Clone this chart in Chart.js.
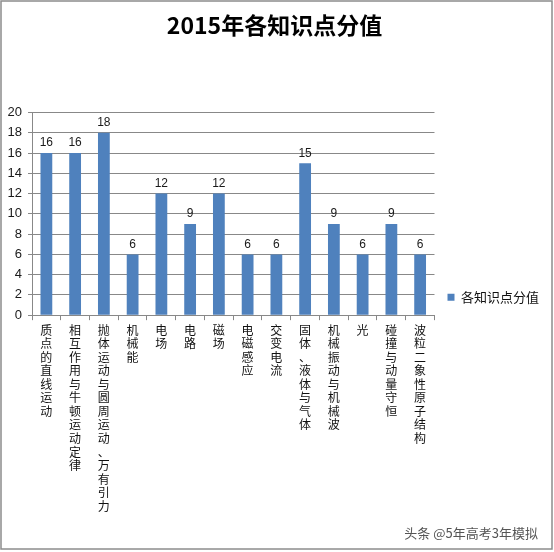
<!DOCTYPE html>
<html>
<head>
<meta charset="utf-8">
<script src="https://cdn.jsdelivr.net/npm/chart.js@4.4.1/dist/chart.umd.min.js"></script>
<style>
  html, body { margin: 0; padding: 0; background: #fff; }
  #wrap { width: 554px; height: 552px; }
</style>
</head>
<body>
<div id="wrap"><canvas id="chart" width="554" height="552"></canvas></div>
<script>
// Chart data
var title_text   = '2015年各知识点分值';
var series_name  = '各知识点分值';
var categories   = [
    '质点的直线运动',
    '相互作用与牛顿运动定律',
    '抛体运动与圆周运动、万有引力',
    '机械能',
    '电场',
    '电路',
    '磁场',
    '电磁感应',
    '交变电流',
    '固体、液体与气体',
    '机械振动与机械波',
    '光',
    '碰撞与动量守恒',
    '波粒二象性原子结构'
];
var scores       = [16, 16, 18, 6, 12, 9, 12, 6, 6, 15, 9, 6, 9, 6];
var y_ticks      = [0, 2, 4, 6, 8, 10, 12, 14, 16, 18, 20];
var watermark    = '头条 @5年高考3年模拟';

var CJK   = '"Noto Sans CJK SC", "Noto Sans", sans-serif';
var LATIN = '"Liberation Sans", Arial, sans-serif';
var GRID  = '#888888';

/******************************************************************************
* Background, frame, value labels and watermark.
******************************************************************************/
var decor_plugin = {
    id: 'decor',
    beforeDraw: function(chart) {
        var ctx = chart.ctx;
        ctx.save();
        ctx.fillStyle = '#ffffff';
        ctx.fillRect(0, 0, chart.width, chart.height);
        ctx.restore();
    },
    afterDatasetsDraw: function(chart) {
        var ctx  = chart.ctx;
        var meta = chart.getDatasetMeta(0);
        ctx.save();
        ctx.font = '12px ' + LATIN;
        ctx.fillStyle = '#1a1a1a';
        ctx.textAlign = 'center';
        ctx.textBaseline = 'bottom';
        meta.data.forEach(function(bar, i) {
            ctx.fillText(String(scores[i]), bar.x, bar.y - 4);
        });
        ctx.restore();
    },
    afterDraw: function(chart) {
        var ctx = chart.ctx;
        ctx.save();
        ctx.strokeStyle = '#8c8c8c';
        ctx.lineWidth = 1.5;
        ctx.strokeRect(1, 1, chart.width - 3, chart.height - 4);

        ctx.font = '13px ' + CJK;
        ctx.textAlign = 'right';
        ctx.textBaseline = 'middle';
        ctx.shadowColor = 'rgba(255,255,255,0.9)';
        ctx.shadowBlur = 2;
        ctx.fillStyle = '#555555';
        ctx.fillText(watermark, 538, 533);
        ctx.restore();
    }
};

var ctx = document.getElementById('chart').getContext('2d');
window.scoreChart = new Chart(ctx, {
    type: 'bar',
    data: {
        // each character on its own line gives the vertical labels
        labels: categories.map(function(c) { return c.split(''); }),
        datasets: [{
            label: series_name,
            data: scores,
            backgroundColor: '#4F81BD',
            borderWidth: 0,
            barPercentage: 0.41,
            categoryPercentage: 1.0
        }]
    },
    options: {
        responsive: false,
        animation: false,
        devicePixelRatio: 1,
        layout: {
            padding: { left: 0, right: 5, top: 0, bottom: 36 }
        },
        plugins: {
            title: {
                display: true,
                text: title_text,
                color: '#000000',
                font: { family: CJK, size: 23, weight: 'bold' },
                padding: { top: 11, bottom: 74 }
            },
            legend: {
                display: true,
                position: 'right',
                title: {
                    display: true,
                    text: ' ',
                    padding: { top: 32, bottom: 32 },
                    font: { size: 12 }
                },
                labels: {
                    boxWidth: 7,
                    boxHeight: 7,
                    color: '#111111',
                    font: { family: CJK, size: 13 },
                    padding: 13
                }
            },
            tooltip: { enabled: false }
        },
        scales: {
            x: {
                offset: true,
                grid: {
                    display: true,
                    offset: true,
                    drawOnChartArea: false,
                    drawTicks: true,
                    tickLength: 5,
                    color: GRID
                },
                border: { display: true, color: GRID, width: 1 },
                ticks: {
                    autoSkip: false,
                    maxRotation: 0,
                    minRotation: 0,
                    padding: 3,
                    color: '#111111',
                    font: { family: CJK, size: 12, lineHeight: 1.13 }
                }
            },
            y: {
                min: 0,
                max: 20,
                afterBuildTicks: function(scale) {
                    scale.ticks = y_ticks.map(function(v) { return { value: v }; });
                },
                afterFit: function(scale) {
                    scale.width = 32;
                },
                grid: {
                    color: GRID,
                    tickLength: 4,
                    lineWidth: 1
                },
                border: { display: true, color: GRID, width: 1 },
                ticks: {
                    padding: 6,
                    color: '#1a1a1a',
                    font: { family: LATIN, size: 13 }
                }
            }
        }
    },
    plugins: [decor_plugin]
});
</script>
</body>
</html>
